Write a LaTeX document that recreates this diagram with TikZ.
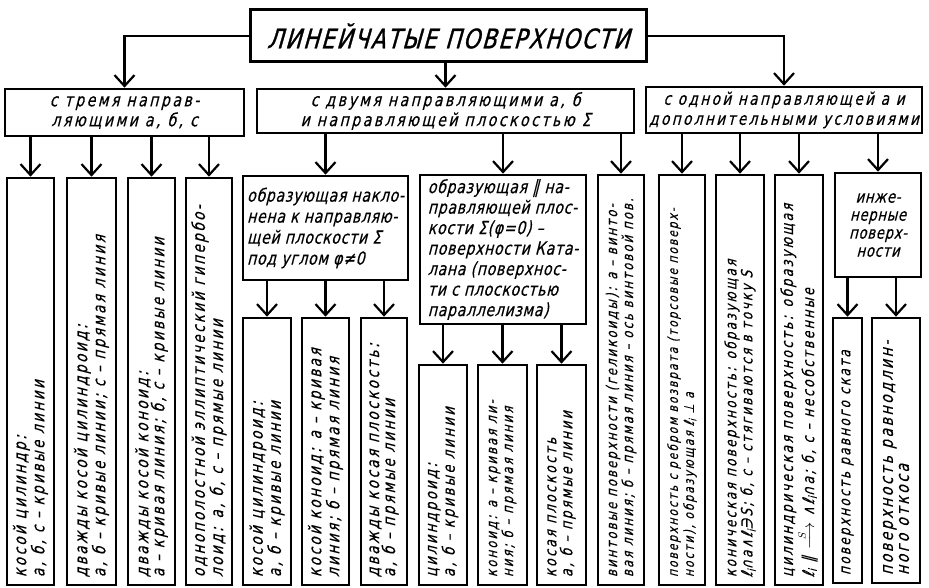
\documentclass[tikz,border=0pt]{standalone}
\usepackage{fontspec}
\usepackage{graphicx}
\usetikzlibrary{arrows.meta}
\setmainfont{DejaVu Sans}
\newfontfamily\gost{DejaVu Sans}[FakeSlant=0.25,FakeStretch=0.78,LetterSpace=14,FakeBold=0.4]
\newfontfamily\gostn{DejaVu Sans}[FakeSlant=0.25,FakeStretch=0.78,LetterSpace=4,FakeBold=0.4]
\newfontfamily\gostt{DejaVu Sans}[FakeSlant=0.25,FakeStretch=0.7,LetterSpace=6,FakeBold=1]
\tikzset{
  box/.style={draw, line width=2.6pt, inner sep=0pt},
  hdr/.style={box, align=center, font=\gost\fontsize{18}{20}\selectfont},
  leaf/.style={box},
  arr/.style={line width=2.2pt, -{Straight Barb[length=11pt,width=20pt]}},
}
\newcommand\leafnode[7]{%
  \node[leaf, minimum width={#3-#2}, minimum height={#5-#4}] (#1) at ({(#2+#3)/2},{(#4+#5)/2})
  {\rotatebox{90}{\parbox{\dimexpr #5pt-#4pt-16pt\relax}{\raggedright\gost\fontsize{#6}{16}\selectfont #7}}};}
\begin{document}
\begin{tikzpicture}[x=1pt,y=-1pt]
\useasboundingbox (0,0) rectangle (929,588);
% title
\node[box, line width=3pt, minimum width=396, minimum height=52] (title) at (448,36)
  {\resizebox{362pt}{25pt}{\gostt ЛИНЕЙЧАТЫЕ ПОВЕРХНОСТИ}};
% group headers
\node[hdr, minimum width=239, minimum height=47] (g1) at (124.5,112.5) {с тремя направ-\\ляющими а, б, с};
\node[hdr, minimum width=377, minimum height=44] (g2) at (445.5,111) {с двумя направляющими а, б\\и направляющей плоскостью Σ};
\node[hdr, minimum width=276, minimum height=46, font=\gost\fontsize{17.4}{20}\selectfont] (g3) at (784,110) {с одной направляющей а и\\дополнительными условиями};
% group 1 leaves
\leafnode{l1}{7}{54}{178}{585}{17.4}{косой цилиндр:\\а, б, с – кривые линии}
\leafnode{l2}{67}{116}{178}{585}{17.4}{дважды косой цилиндроид:\\а, б – кривые линии; с – прямая линия}
\leafnode{l3}{128}{175}{178}{585}{17.4}{дважды косой коноид:\\а – кривая линия; б, с – кривые линии}
\leafnode{l4}{186}{232}{178}{585}{17.4}{однополостной эллиптический гипербо-\\лоид: а, б, с – прямые линии}
% group 2
\node[box, minimum width=165, minimum height=104, align=left, font=\gostn\fontsize{18}{21}\selectfont] (nakl) at (325.5,228)
  {образующая накло-\\нена к направляю-\\щей плоскости Σ\\под углом φ≠0};
\node[box, minimum width=166, minimum height=149, align=left, font=\gostn\fontsize{18}{20.5}\selectfont] (par) at (503,249.5)
  {образующая ∥ на-\\правляющей плос-\\кости Σ(φ=0) –\\поверхности Ката-\\лана (поверхнос-\\ти с плоскостью\\параллелизма)};
\leafnode{vint}{598}{644}{175}{585}{15}{винтовые поверхности (геликоиды): а – винто-\\вая линия; б – прямая линия – ось винтовой пов.}
\leafnode{n1}{243}{291}{318}{585}{17.4}{косой цилиндроид:\\а, б – кривые линии}
\leafnode{n2}{302}{349}{318}{585}{17.4}{косой коноид: а – кривая\\линия; б – прямая линия}
\leafnode{n3}{361}{407}{318}{585}{17.4}{дважды косая плоскость:\\а, б – прямые линии}
\leafnode{p1}{419}{467}{365}{585}{16.8}{цилиндроид:\\а, б – кривые линии}
\leafnode{p2}{478}{527}{365}{585}{15}{коноид: а – кривая ли-\\ния; б – прямая линия}
\leafnode{p3}{537}{586}{365}{585}{16.2}{косая плоскость\\а, б – прямые линии}
% group 3
\leafnode{rebr}{659}{705}{175}{585}{13.8}{поверхность с ребром возврата (торсовые поверх-\\ности), образующая ℓ\textsubscript{i} ⊥ а}
\leafnode{kon}{716}{764}{175}{585}{15.6}{коническая поверхность: образующая\\ℓ\textsubscript{i}∩а∧ℓ\textsubscript{i}∋S; б, с – стягиваются в точку S}
\leafnode{cyl}{775}{823}{175}{585}{16.2}{цилиндрическая поверхность: образующая\\ℓ\textsubscript{i} ∥ $\stackrel{S}{\longrightarrow}$ ∧ℓ\textsubscript{i}∩а; б, с – несобственные}
\node[box, minimum width=86, minimum height=104, align=center, font=\gostn\fontsize{17}{18}\selectfont] (inzh) at (878,225)
  {инже-\\нерные\\поверх-\\ности};
\leafnode{i1}{833}{862}{318}{583}{15.6}{поверхность равного ската}
\leafnode{i2}{872}{920}{318}{583}{18}{поверхность равнодлин-\\ного откоса}
% connectors
\draw[arr] (title.west) -| (g1.north);
\draw[arr] (title.south -| g2.north) -- (g2.north);
\draw[arr] (title.east) -| (g3.north);
\foreach \n in {l1,l2,l3,l4} \draw[arr] (g1.south -| \n.north) -- (\n.north);
\foreach \n in {nakl,par,vint} \draw[arr] (g2.south -| \n.north) -- (\n.north);
\foreach \n in {n1,n2,n3} \draw[arr] (nakl.south -| \n.north) -- (\n.north);
\foreach \n in {p1,p2,p3} \draw[arr] (par.south -| \n.north) -- (\n.north);
\foreach \n in {rebr,kon,cyl,inzh} \draw[arr] (g3.south -| \n.north) -- (\n.north);
\foreach \n in {i1,i2} \draw[arr] (inzh.south -| \n.north) -- (\n.north);
\end{tikzpicture}
\end{document}
